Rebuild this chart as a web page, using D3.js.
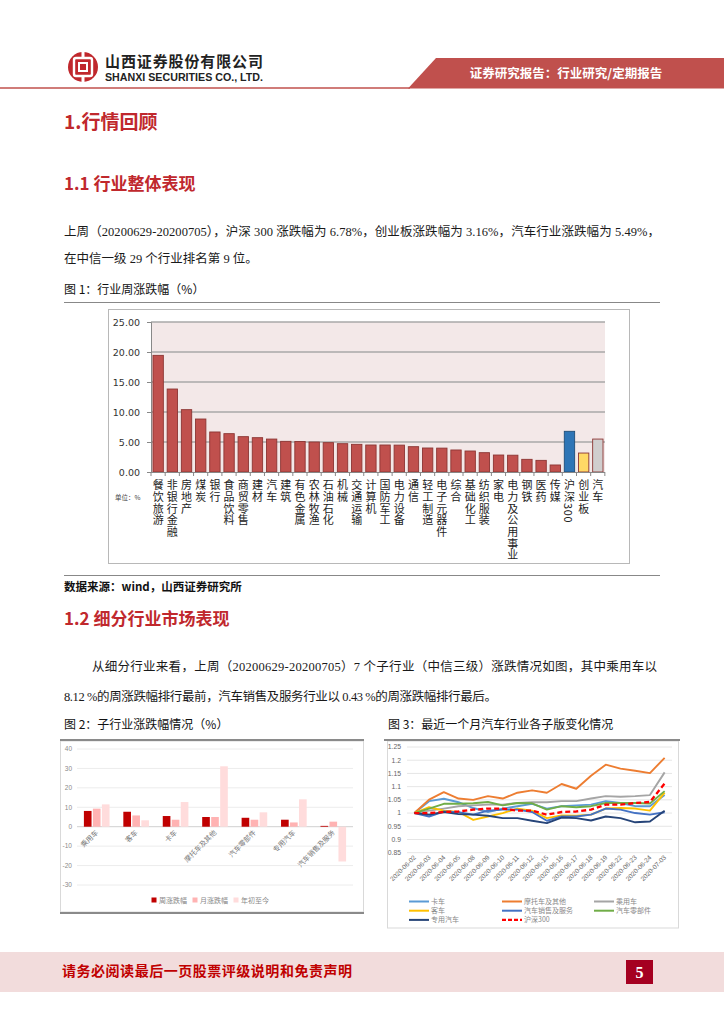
<!DOCTYPE html>
<html><head><meta charset="utf-8">
<script src="https://cdn.jsdelivr.net/npm/d3@7"></script>
<style>body{margin:0;background:#fff}svg{display:block}</style>
</head><body>
<script>
// ---------- DATA ----------
const industries = ['餐饮旅游','非银行金融','房地产','煤炭','银行','食品饮料','商贸零售','建材','汽车','建筑','有色金属','农林牧渔','石油石化','机械','交通运输','计算机','国防军工','电力设备','通信','轻工制造','电子元器件','综合','基础化工','纺织服装','家电','电力及公用事业','钢铁','医药','传媒','沪深300','创业板','汽车'];
const weeklyChange = [19.44,13.83,10.39,8.83,6.67,6.39,5.89,5.72,5.49,5.11,5.08,5.00,4.89,4.72,4.61,4.50,4.50,4.48,4.22,4.00,3.98,3.67,3.50,3.22,2.83,2.80,2.11,1.94,1.17,6.78,3.16,5.49];
const yTicks1 = [0,5,10,15,20,25];

const subCats = ['乘用车','客车','卡车','摩托车及其他','汽车零部件','专用汽车','汽车销售及服务'];
const subSeries = ['周涨跌幅','月涨跌幅','年初至今'];
const subWeek = [8.12,7.7,5.5,5.0,4.6,3.6,0.43];
const subMonth = [9.3,5.8,3.6,5.0,3.6,2.2,2.6];
const subYtd = [11.5,3.3,12.7,31.1,7.4,14.1,-17.9];
const yTicks2 = [-30,-20,-10,0,10,20,30,40];

const dates = ['2020-06-02','2020-06-03','2020-06-04','2020-06-05','2020-06-08','2020-06-09','2020-06-10','2020-06-11','2020-06-12','2020-06-15','2020-06-16','2020-06-17','2020-06-18','2020-06-19','2020-06-22','2020-06-23','2020-06-24','2020-07-03'];
const lineNames = ['卡车','摩托车及其他','乘用车','客车','汽车销售及服务','汽车零部件','专用汽车','沪深300'];
const truck   = [1,1.045,1.054,1.041,1.019,1.004,1.017,1.026,1.035,1.017,1.026,1.029,1.032,1.045,1.038,1.026,1.026,1.068];
const moto    = [1,1.051,1.079,1.055,1.050,1.064,1.055,1.077,1.086,1.077,1.110,1.092,1.141,1.183,1.168,1.160,1.151,1.209];
const car     = [1,1.009,1.017,1.026,1.029,1.032,1.032,1.038,1.041,1.041,1.045,1.045,1.055,1.064,1.062,1.064,1.068,1.154];
const bus     = [1,1.022,1.009,1.004,0.974,0.987,1.000,1.017,1.009,0.981,0.991,0.990,0.994,1.017,1.019,1.017,1.009,1.077];
const sales   = [1,0.987,1.006,1.003,0.994,1.009,1.013,1.013,1.004,0.971,0.987,0.987,0.994,1.017,1.013,1.000,0.994,1.003];
const parts   = [1,1.017,1.035,1.035,1.037,1.042,1.029,1.038,1.037,1.013,1.026,1.022,1.026,1.038,1.038,1.038,1.036,1.083];
const special = [1,0.994,1.004,0.996,0.994,0.990,0.981,0.981,0.971,0.962,0.983,0.981,0.972,0.987,0.981,0.965,0.968,1.009];
const hs300   = [1,1.000,1.004,1.006,1.013,1.017,1.017,1.009,1.009,0.994,1.004,1.006,1.013,1.032,1.032,1.038,1.042,1.112];
const yTicks3 = [0.85,0.9,0.95,1,1.05,1.1,1.15,1.2,1.25];

// ---------- STYLES ----------
const RED = '#c0282d';
const CJK = '"Noto Sans CJK SC", sans-serif';
const SERIF = '"Liberation Serif", "Noto Sans CJK SC", serif';

const svg = d3.select('body').append('svg').attr('width',724).attr('height',1024);

// ---------- HEADER ----------
const lg = svg.append('g').attr('transform','translate(83,67)');
lg.append('circle').attr('r',15).attr('fill',RED);
lg.append('rect').attr('x',-9).attr('y',-9).attr('width',18).attr('height',18).attr('rx',2).attr('fill','none').attr('stroke','#fff').attr('stroke-width',2.4);
lg.append('rect').attr('x',-4).attr('y',-4).attr('width',8).attr('height',8).attr('fill','none').attr('stroke','#fff').attr('stroke-width',2);
lg.append('rect').attr('x',-1.5).attr('y',-16).attr('width',3).attr('height',6).attr('fill','#fff');
lg.append('rect').attr('x',-1.5).attr('y',10).attr('width',3).attr('height',6).attr('fill','#fff');
svg.append('text').attr('x',105).attr('y',67).attr('font-family',CJK).attr('font-weight',700).attr('font-size',15).attr('fill','#222')
  .attr('textLength',158).attr('lengthAdjust','spacing').text('山西证券股份有限公司');
svg.append('text').attr('x',105).attr('y',81).attr('font-family','"Liberation Sans", Arial, sans-serif').attr('font-weight',700).attr('font-size',10).attr('fill','#222')
  .attr('textLength',158).attr('lengthAdjust','spacingAndGlyphs').text('SHANXI SECURITIES CO., LTD.');
svg.append('polygon').attr('points','436,58 724,58 724,88.5 408,88.5').attr('fill','#c0504d');
svg.append('line').attr('x1',0).attr('x2',410).attr('y1',88).attr('y2',88).attr('stroke','#c0504d').attr('stroke-width',1.5);
svg.append('text').attr('x',566).attr('y',78).attr('text-anchor','middle').attr('font-family',CJK).attr('font-weight',700).attr('font-size',12.5).attr('fill','#fff')
  .text('证券研究报告：行业研究/定期报告');

// ---------- TITLES & TEXT ----------
function txt(x,y,s,opt={}){
  const t = svg.append('text').attr('x',x).attr('y',y).attr('font-family',opt.font||CJK).attr('font-size',opt.size||12)
   .attr('font-weight',opt.weight||400).attr('fill',opt.fill||'#111').text(s);
  if(opt.len) t.attr('textLength',opt.len).attr('lengthAdjust','spacing');
  if(opt.anchor) t.attr('text-anchor',opt.anchor);
  return t;
}
txt(64,129,'1.行情回顾',{size:19,weight:700,fill:RED});
txt(64,190,'1.1 行业整体表现',{size:17,weight:700,fill:RED});
txt(64,236,'上周（20200629-20200705），沪深 300 涨跌幅为 6.78%，创业板涨跌幅为 3.16%，汽车行业涨跌幅为 5.49%，',{font:SERIF,size:12.5,len:596,fill:'#1a1a1a'});
txt(64,263,'在中信一级 29 个行业排名第 9 位。',{font:SERIF,size:12.5,fill:'#1a1a1a'});
txt(64,294,'图 1：行业周涨跌幅（%）',{size:12,fill:'#111'});
svg.append('line').attr('x1',64).attr('x2',660).attr('y1',302.5).attr('y2',302.5).attr('stroke','#888').attr('stroke-width',1);
svg.append('line').attr('x1',64).attr('x2',660).attr('y1',575.5).attr('y2',575.5).attr('stroke','#888').attr('stroke-width',1);
txt(64,591,'数据来源：wind，山西证券研究所',{size:11.5,weight:700,fill:'#111'});
txt(64,625,'1.2 细分行业市场表现',{size:17,weight:700,fill:RED});
txt(92,671,'从细分行业来看，上周（20200629-20200705）7 个子行业（中信三级）涨跌情况如图，其中乘用车以',{font:SERIF,size:12.5,len:565,fill:'#1a1a1a'});
txt(64,701,'8.12 %的周涨跌幅排行最前，汽车销售及服务行业以 0.43 %的周涨跌幅排行最后。',{font:SERIF,size:12.5,len:433,fill:'#1a1a1a'});
txt(64,729,'图 2：子行业涨跌幅情况（%）',{size:12,fill:'#111'});
txt(388,729,'图 3：最近一个月汽车行业各子版变化情况',{size:12,fill:'#111'});

// ---------- CHART 1 ----------
svg.append('rect').attr('x',108.5).attr('y',309.5).attr('width',521).attr('height',254).attr('fill','#fff').attr('stroke','#b8b8b8');
const x1 = d3.scaleBand().domain(d3.range(industries.length)).range([151,605]).paddingInner(0.27).paddingOuter(0.14);
const y1 = d3.scaleLinear().domain([0,25]).range([472,322]);
svg.append('rect').attr('x',151).attr('y',322).attr('width',454).attr('height',150).attr('fill','#f3e8e8');
svg.append('g').selectAll('line').data(yTicks1.filter(d=>d>0)).join('line')
  .attr('x1',151).attr('x2',605).attr('y1',d=>y1(d)).attr('y2',d=>y1(d)).attr('stroke','#a8a8a8').attr('stroke-width',1.3);
const barFill = i => i===29 ? '#2e75b6' : i===30 ? '#ffd966' : i===31 ? '#d0cece' : '#c0504d';
const barStroke = i => i===29 ? '#1f4e79' : '#8c3533';
svg.append('g').selectAll('rect').data(weeklyChange).join('rect')
  .attr('x',(d,i)=>x1(i)).attr('width',x1.bandwidth())
  .attr('y',d=>y1(d)).attr('height',d=>y1(0)-y1(d))
  .attr('fill',(d,i)=>barFill(i)).attr('stroke',(d,i)=>barStroke(i)).attr('stroke-width',0.9);
const ax1 = svg.append('g').attr('transform','translate(151,0)')
  .call(d3.axisLeft(y1).tickValues(yTicks1).tickFormat(d3.format('.2f')).tickSize(4));
ax1.select('.domain').attr('stroke','#888');
ax1.selectAll('.tick line').attr('stroke','#888');
ax1.selectAll('text').attr('font-family','"DejaVu Sans", sans-serif').attr('font-size',9.5).attr('fill','#333').attr('x',-11);
svg.append('line').attr('x1',151).attr('x2',605).attr('y1',472.5).attr('y2',472.5).attr('stroke','#888');
const step1 = x1.step();
svg.append('g').selectAll('line').data(d3.range(industries.length+1)).join('line')
  .attr('x1',d=>151+d*step1).attr('x2',d=>151+d*step1).attr('y1',472).attr('y2',476).attr('stroke','#888');
// vertical labels (one text per category, vertical writing mode)
svg.append('g').selectAll('text').data(industries).join('text')
  .attr('x',(d,i)=>x1(i)+x1.bandwidth()/2).attr('y',479.5)
  .style('writing-mode','vertical-rl').style('text-orientation','mixed')
  .attr('letter-spacing',0.7)
  .attr('font-family',CJK).attr('font-size',11).attr('fill','#222').text(d=>d);
txt(115,500,'单位：%',{size:6.5,fill:'#444'});

// ---------- CHART 2 ----------
svg.append('rect').attr('x',60.5).attr('y',741).attr('width',303).attr('height',171).attr('fill','#fff').attr('stroke','#d9d9d9');
svg.append('line').attr('x1',60).attr('x2',364).attr('y1',740).attr('y2',740).attr('stroke','#8a8a8a').attr('stroke-width',2);
svg.append('line').attr('x1',60).attr('x2',364).attr('y1',913).attr('y2',913).attr('stroke','#8a8a8a').attr('stroke-width',2);
const y2 = d3.scaleLinear().domain([-30,40]).range([885,749]);
const x2 = d3.scaleBand().domain(subCats).range([77,353]).paddingInner(0.35).paddingOuter(0.175);
const x2i = d3.scaleBand().domain(subSeries).range([0,x2.bandwidth()]).paddingInner(0.15);
svg.append('g').selectAll('line').data(yTicks2).join('line')
  .attr('x1',77).attr('x2',353).attr('y1',d=>y2(d)).attr('y2',d=>y2(d)).attr('stroke',d=>d===0?'#d0d0d0':'#ececec').attr('stroke-width',1);
svg.append('g').selectAll('text').data(yTicks2).join('text')
  .attr('x',72).attr('y',d=>y2(d)).attr('dy','0.35em').attr('text-anchor','end')
  .attr('font-family','"Liberation Sans", sans-serif').attr('font-size',6.5).attr('fill','#8a8a8a').text(d=>d);
const subColors = {'周涨跌幅':'#c00000','月涨跌幅':'#ffb3b3','年初至今':'#ffdcdc'};
const subData = [subWeek,subMonth,subYtd];
subSeries.forEach((s,k)=>{
  svg.append('g').selectAll('rect').data(subData[k]).join('rect')
    .attr('x',(d,i)=>x2(subCats[i])+x2i(s)).attr('width',x2i.bandwidth())
    .attr('y',d=>y2(Math.max(0,d))).attr('height',d=>Math.abs(y2(d)-y2(0)))
    .attr('fill',subColors[s]);
});
svg.append('g').selectAll('text').data(subCats).join('text')
  .attr('transform',d=>`translate(${x2(d)+x2.bandwidth()/2+2},${833}) rotate(-45)`)
  .attr('text-anchor','end').attr('font-family',CJK).attr('font-size',7).attr('fill','#777').text(d=>d);
subSeries.forEach((s,k)=>{
  const lx = 154 + k*41;
  svg.append('rect').attr('x',lx-2.5).attr('y',897.5).attr('width',5).attr('height',5).attr('fill',subColors[s]);
  txt(lx+5,902.5,s,{size:7,fill:'#888'});
});

// ---------- CHART 3 ----------
svg.append('rect').attr('x',387.5).attr('y',741).attr('width',291).attr('height',187).attr('fill','#fff').attr('stroke','#d9d9d9');
svg.append('line').attr('x1',384).attr('x2',680).attr('y1',740).attr('y2',740).attr('stroke','#8a8a8a').attr('stroke-width',2);
const y3 = d3.scaleLinear().domain([0.85,1.25]).range([852.7,747]);
const x3 = d3.scalePoint().domain(dates).range([407,672]).padding(0.5);
svg.append('g').selectAll('line').data(yTicks3).join('line')
  .attr('x1',407).attr('x2',672).attr('y1',d=>y3(d)).attr('y2',d=>y3(d)).attr('stroke','#e6e6e6').attr('stroke-width',1);
svg.append('g').selectAll('text').data(yTicks3).join('text')
  .attr('x',401).attr('y',d=>y3(d)).attr('dy','0.35em').attr('text-anchor','end')
  .attr('font-family','"Liberation Sans", sans-serif').attr('font-size',6.8).attr('fill','#666').text(d=>String(+d.toFixed(2)));
svg.append('g').selectAll('text').data(dates).join('text')
  .attr('transform',d=>`translate(${x3(d)+2},${858}) rotate(-45)`)
  .attr('text-anchor','end').attr('font-family','"Liberation Sans", sans-serif').attr('font-size',6.5).attr('fill','#666').text(d=>d);
const lineData = [truck,moto,car,bus,sales,parts,special,hs300];
const lineColors = {'卡车':'#5b9bd5','摩托车及其他':'#ed7d31','乘用车':'#a5a5a5','客车':'#ffc000','汽车销售及服务':'#4472c4','汽车零部件':'#70ad47','专用汽车':'#264478','沪深300':'#ff0000'};
const lineGen = d3.line().x((d,i)=>x3(dates[i])).y(d=>y3(d));
lineNames.forEach((n,k)=>{
  svg.append('path').datum(lineData[k]).attr('d',lineGen).attr('fill','none')
    .attr('stroke',lineColors[n]).attr('stroke-width',n==='沪深300'?2.3:1.9)
    .attr('stroke-dasharray',n==='沪深300'?'5,3':null).attr('stroke-linejoin','round');
});
lineNames.forEach((n,k)=>{
  const col = k%3, row = Math.floor(k/3);
  const lx = [409,502,594][col], ly = 901.5 + row*9.2;
  svg.append('line').attr('x1',lx).attr('x2',lx+20).attr('y1',ly).attr('y2',ly)
    .attr('stroke',lineColors[n]).attr('stroke-width',n==='沪深300'?2.3:2).attr('stroke-dasharray',n==='沪深300'?'4,2':null);
  txt(lx+22,ly+2.5,n,{size:7,fill:'#888'});
});

// ---------- FOOTER ----------
svg.append('rect').attr('x',0).attr('y',952).attr('width',724).attr('height',40).attr('fill','#f2dcdc');
txt(62,976,'请务必阅读最后一页股票评级说明和免责声明',{size:14,weight:700,fill:'#c00000',len:290});
svg.append('rect').attr('x',626).attr('y',960).attr('width',27).attr('height',24).attr('fill','#a50021');
svg.append('text').attr('x',639.5).attr('y',978).attr('text-anchor','middle').attr('font-family','"Liberation Serif", serif').attr('font-weight',700).attr('font-size',16).attr('fill','#fff').text('5');
</script>
</body></html>
